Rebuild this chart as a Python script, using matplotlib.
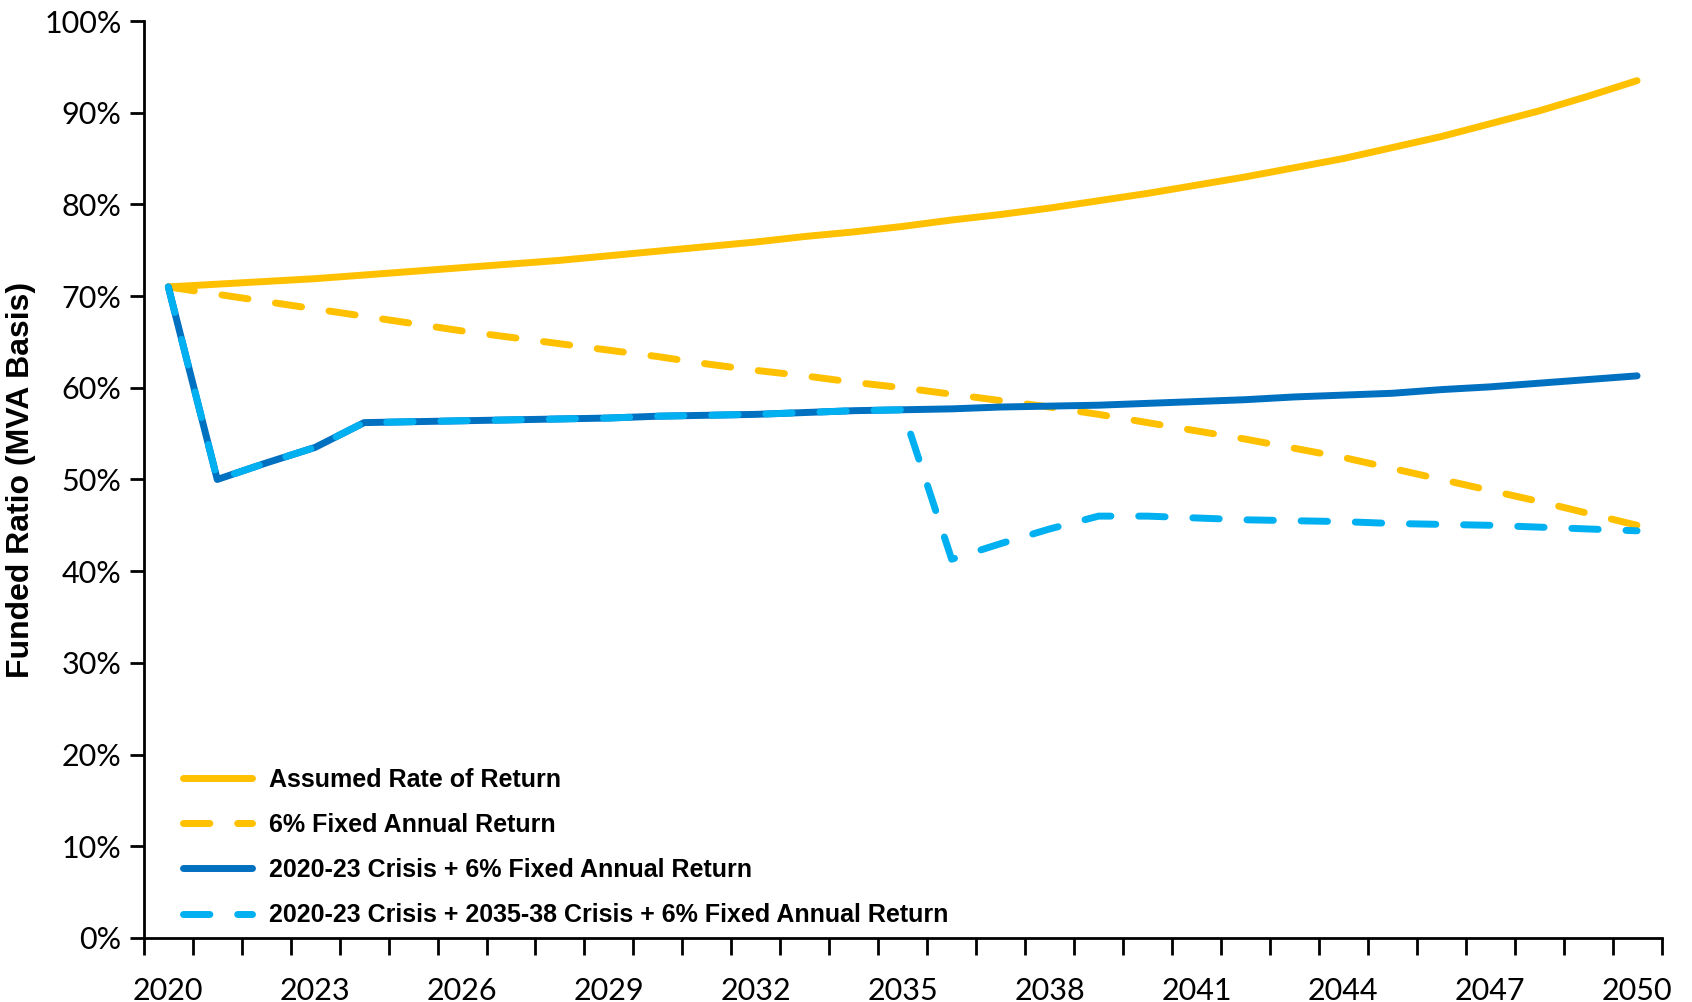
import matplotlib
matplotlib.use("Agg")
import matplotlib.pyplot as plt
from matplotlib.ticker import FuncFormatter, MultipleLocator

# funded ratio projections, one value per year 2020-2050 (in %)
years = list(range(2020, 2051))

assumed_return = [71.0, 71.3, 71.6, 71.9, 72.3, 72.7, 73.1, 73.5, 73.9, 74.4,
                  74.9, 75.4, 75.9, 76.5, 77.0, 77.6, 78.3, 78.9, 79.6, 80.4,
                  81.2, 82.1, 83.0, 84.0, 85.0, 86.2, 87.4, 88.8, 90.2, 91.8, 93.5]

fixed_6pct = [71.0, 70.2, 69.4, 68.6, 67.8, 67.0, 66.2, 65.5, 64.8, 64.1,
              63.4, 62.6, 61.9, 61.3, 60.6, 60.0, 59.3, 58.6, 57.9, 57.1,
              56.2, 55.3, 54.4, 53.4, 52.4, 51.2, 50.0, 48.8, 47.6, 46.3, 45.0]

crisis_2020 = [71.0, 50.0, 51.8, 53.5, 56.2, 56.3, 56.4, 56.5, 56.6, 56.7,
               56.9, 57.0, 57.1, 57.3, 57.5, 57.6, 57.7, 57.9, 58.0, 58.1,
               58.3, 58.5, 58.7, 59.0, 59.2, 59.4, 59.8, 60.1, 60.5, 60.9, 61.3]

crisis_2020_2035 = [71.0, 50.0, 51.8, 53.5, 56.2, 56.3, 56.4, 56.5, 56.6, 56.7,
                    56.9, 57.0, 57.1, 57.3, 57.5, 57.6, 41.3, 43.0, 44.6, 46.0,
                    46.0, 45.8, 45.6, 45.5, 45.4, 45.2, 45.1, 45.0, 44.8, 44.6, 44.4]

labels = ["Assumed Rate of Return",
          "6% Fixed Annual Return",
          "2020-23 Crisis + 6% Fixed Annual Return",
          "2020-23 Crisis + 2035-38 Crisis + 6% Fixed Annual Return"]

gold = "#FFC000"
dark_blue = "#0070C0"
light_blue = "#00B0F0"

fig = plt.figure(figsize=(16.92, 10.02), dpi=100)
ax = fig.add_axes([0.085, 0.064, 0.897, 0.915])

lw = 5
dash = (0, (3.8, 4.0))
ax.plot(years, [v / 100 for v in assumed_return], color=gold, lw=lw,
        solid_capstyle="round", label=labels[0])
ax.plot(years, [v / 100 for v in fixed_6pct], color=gold, lw=lw,
        linestyle=dash, dash_capstyle="round", label=labels[1])
ax.plot(years, [v / 100 for v in crisis_2020], color=dark_blue, lw=lw,
        solid_capstyle="round", label=labels[2])
ax.plot(years, [v / 100 for v in crisis_2020_2035], color=light_blue, lw=lw,
        linestyle=dash, dash_capstyle="round", label=labels[3])

ax.set_ylim(0, 1)
ax.set_xlim(2019.5, 2050.5)
ax.yaxis.set_major_locator(MultipleLocator(0.1))
ax.yaxis.set_major_formatter(FuncFormatter(lambda v, p: f"{v * 100:.0f}%"))

ax.set_xticks(years[::3])
ax.set_xticks([y - 0.5 for y in years] + [2050.5], minor=True)
ax.tick_params(axis="x", which="major", length=0, pad=28)
ax.tick_params(axis="x", which="minor", length=12, width=2, direction="out")
ax.tick_params(axis="y", length=10, width=2, direction="out", pad=6)

for lab in ax.get_xticklabels() + ax.get_yticklabels():
    lab.set_fontfamily("Lato")
    lab.set_fontsize(22)

for s in ["top", "right"]:
    ax.spines[s].set_visible(False)
for s in ["left", "bottom"]:
    ax.spines[s].set_linewidth(2)

ax.set_ylabel("Funded Ratio (MVA Basis)", fontsize=23, fontweight="bold",
              fontfamily="Liberation Sans", labelpad=6)

leg = ax.legend(loc="lower left", bbox_to_anchor=(0.011, -0.013), frameon=False,
                handlelength=2.75, handletextpad=0.67, labelspacing=0.85,
                prop={"family": "Liberation Sans", "weight": "bold", "size": 18})

fig.savefig("out.png", dpi=100)
